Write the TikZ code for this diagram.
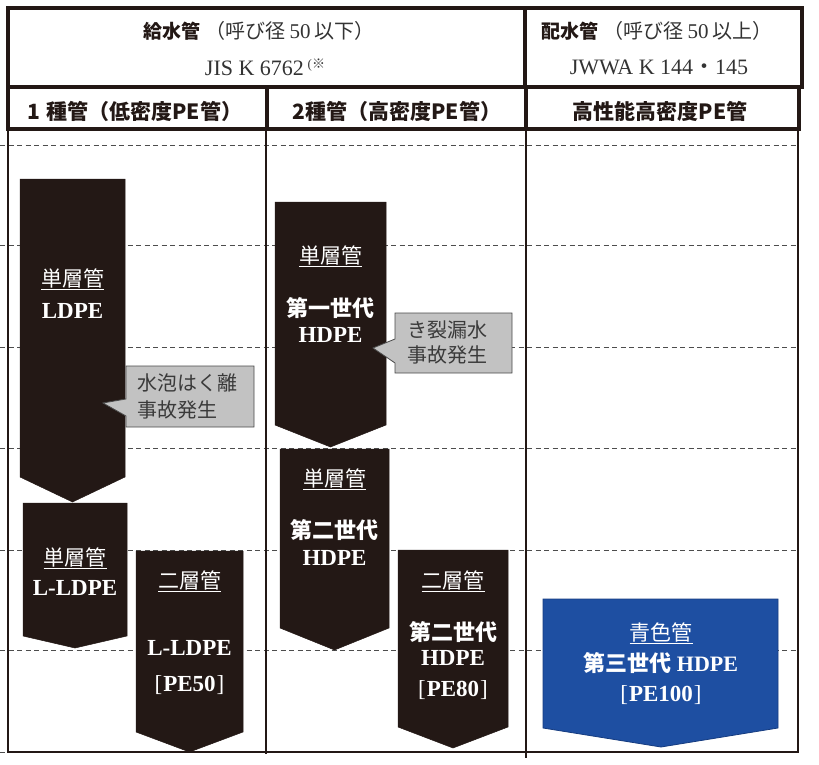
\documentclass[tikz,border=0pt]{standalone}
\usepackage{fontspec}
\setmainfont{Liberation Serif}
\newfontfamily\jp{Noto Sans CJK JP}
\definecolor{pblack}{HTML}{231815}
\definecolor{pblue}{HTML}{1E4FA2}
\definecolor{pblueb}{HTML}{163C80}
\definecolor{cgray}{HTML}{C2C2C2}
\definecolor{cborder}{HTML}{4A4A4A}
\definecolor{ctextc}{HTML}{3A3A3A}
\definecolor{hgray}{HTML}{333333}
\definecolor{dgray}{HTML}{4D4D4D}
\newcommand\fs[1]{\fontsize{#1}{#1}\selectfont}
\tikzset{
  hdr/.style={draw=pblack, line width=3.2pt},
  bodyline/.style={draw=pblack, line width=1.4pt},
  dashline/.style={draw=dgray, line width=0.9pt, dash pattern=on 5pt off 3.5pt},
  pipe/.style={fill=pblack, draw=pblack, line width=0.5pt},
  bluepipe/.style={fill=pblue, draw=pblueb, line width=0.8pt},
  wt/.style={text=white, inner sep=0pt, anchor=center},
  ht/.style={text=pblack, inner sep=0pt, anchor=center},
  callout/.style={fill=cgray, draw=cborder, line width=0.8pt},
  ctext/.style={text=ctextc, inner sep=0pt, align=left, anchor=west}
}
\begin{document}
\begin{tikzpicture}[x=1pt,y=-1pt]
\useasboundingbox (0,0) rectangle (819,765);
% dashed grid lines
\foreach \yy in {145,245,347,448,550,650} {
  \draw[dashline] (0,\yy) -- (798,\yy);
}
\draw[dashline] (0,752) -- (8,752);
% body solid lines
\draw[bodyline] (8,129) -- (8,752) -- (798,752) -- (798,129);
\draw[bodyline] (266,129) -- (266,754);
\draw[bodyline] (526,129) -- (526,758);
% header
\draw[hdr, fill=white] (8,8) rectangle (802,87);
\draw[hdr] (525,8) -- (525,87);
\draw[hdr, fill=white] (8,87) rectangle (799,129);
\draw[hdr] (267,87) -- (267,129);
\draw[hdr] (526,87) -- (526,129);
\node[ht] (h1) at (259,31) {\fs{19}{\jp\bfseries 給水管}\hspace{5pt}{\color{hgray}\jp\fs{20}（呼び径 {\rmfamily\fs{21}50} 以下）}};
\node[ht] (h2) at (265,67) {\color{hgray}\fs{22}JIS K 6762\,\raisebox{7pt}{\fs{13}(\jp ※}};
\node[ht] (h3) at (657,31) {\fs{19}{\jp\bfseries 配水管}\hspace{5pt}{\color{hgray}\jp\fs{20}（呼び径 {\rmfamily\fs{21}50} 以上）}};
\node[ht] (h4) at (659,67) {\color{hgray}\fs{22}JWWA K 144{\jp ・}145};
\node[ht] (c1) at (135,111) {\fs{21}\jp\bfseries 1\hspace{6pt}種管（低密度PE管）};
\node[ht] (c2) at (397,111) {\fs{21}\jp\bfseries 2種管（高密度PE管）};
\node[ht] (c3) at (660,111) {\fs{21}\jp\bfseries 高性能高密度PE管};
% pipe 1: LDPE
\path[pipe] (20,179) -- (125,179) -- (125,477) -- (72.5,502) -- (20,477) -- cycle;
\node[wt] (p1a) at (72.5,279) {\fs{21}\jp\underline{単層管}};
\node[wt] (p1b) at (72.5,311) {\fs{23}\bfseries LDPE};
% callout 1
\path[callout] (126,366) -- (254,366) -- (254,427) -- (126,427) -- (126,416) -- (103,403) -- (126,399) -- cycle;
\node[ctext, font={\jp\fontsize{20}{27}\selectfont}] (k1) at (137,396.5) {水泡はく離\\事故発生};
% pipe 2: L-LDPE single
\path[pipe] (23,503) -- (127,503) -- (127,636) -- (75,648) -- (23,636) -- cycle;
\node[wt] (p2a) at (75,558) {\fs{21}\jp\underline{単層管}};
\node[wt] (p2b) at (75,588) {\fs{23}\bfseries L-LDPE};
% pipe 3: L-LDPE double
\path[pipe] (136,551) -- (243,551) -- (243,732) -- (189.5,752) -- (136,732) -- cycle;
\node[wt] (p3a) at (189.5,581) {\fs{21}\jp\underline{二層管}};
\node[wt] (p3b) at (189.5,648) {\fs{23}\bfseries L-LDPE};
\node[wt] (p3c) at (189.5,685) {\fs{23}[\kern1pt\textbf{PE50}\kern1pt]};
% pipe 4: first gen HDPE
\path[pipe] (275,202) -- (386,202) -- (386,425) -- (330.5,447) -- (275,425) -- cycle;
\node[wt] (p4a) at (330.5,256) {\fs{21}\jp\underline{単層管}};
\node[wt] (p4b) at (330.5,308) {\fs{22}\jp\bfseries 第一世代};
\node[wt] (p4c) at (330.5,335) {\fs{23}\bfseries HDPE};
% callout 2
\path[callout] (395,313) -- (512,313) -- (512,373) -- (395,373) -- (395,363) -- (373,348) -- (395,339) -- cycle;
\node[ctext, font={\jp\fontsize{20}{25}\selectfont}] (k2) at (407,342.5) {き裂漏水\\事故発生};
% pipe 5: second gen HDPE single
\path[pipe] (280,449) -- (389,449) -- (389,628) -- (334.5,650) -- (280,628) -- cycle;
\node[wt] (p5a) at (334.5,479) {\fs{21}\jp\underline{単層管}};
\node[wt] (p5b) at (334.5,530) {\fs{22}\jp\bfseries 第二世代};
\node[wt] (p5c) at (334.5,558) {\fs{23}\bfseries HDPE};
% pipe 6: second gen HDPE double
\path[pipe] (398,550) -- (508,550) -- (508,727) -- (453,748) -- (398,727) -- cycle;
\node[wt] (p6a) at (453,581) {\fs{21}\jp\underline{二層管}};
\node[wt] (p6b) at (453,632) {\fs{22}\jp\bfseries 第二世代};
\node[wt] (p6c) at (453,658) {\fs{23}\bfseries HDPE};
\node[wt] (p6d) at (453,690) {\fs{23}[\kern1pt\textbf{PE80}\kern1pt]};
% pipe 7: blue
\path[bluepipe] (543,599) -- (778,599) -- (778,728) -- (661,747) -- (543,728) -- cycle;
\node[wt] (p7a) at (661,633) {\fs{21}\jp\underline{青色管}};
\node[wt] (p7b) at (661,663) {\fs{22}{\jp\bfseries 第三世代}\hspace{5pt}\textbf{HDPE}};
\node[wt] (p7c) at (661,695) {\fs{23}[\kern1pt\textbf{PE100}\kern1pt]};
\end{tikzpicture}
\end{document}
